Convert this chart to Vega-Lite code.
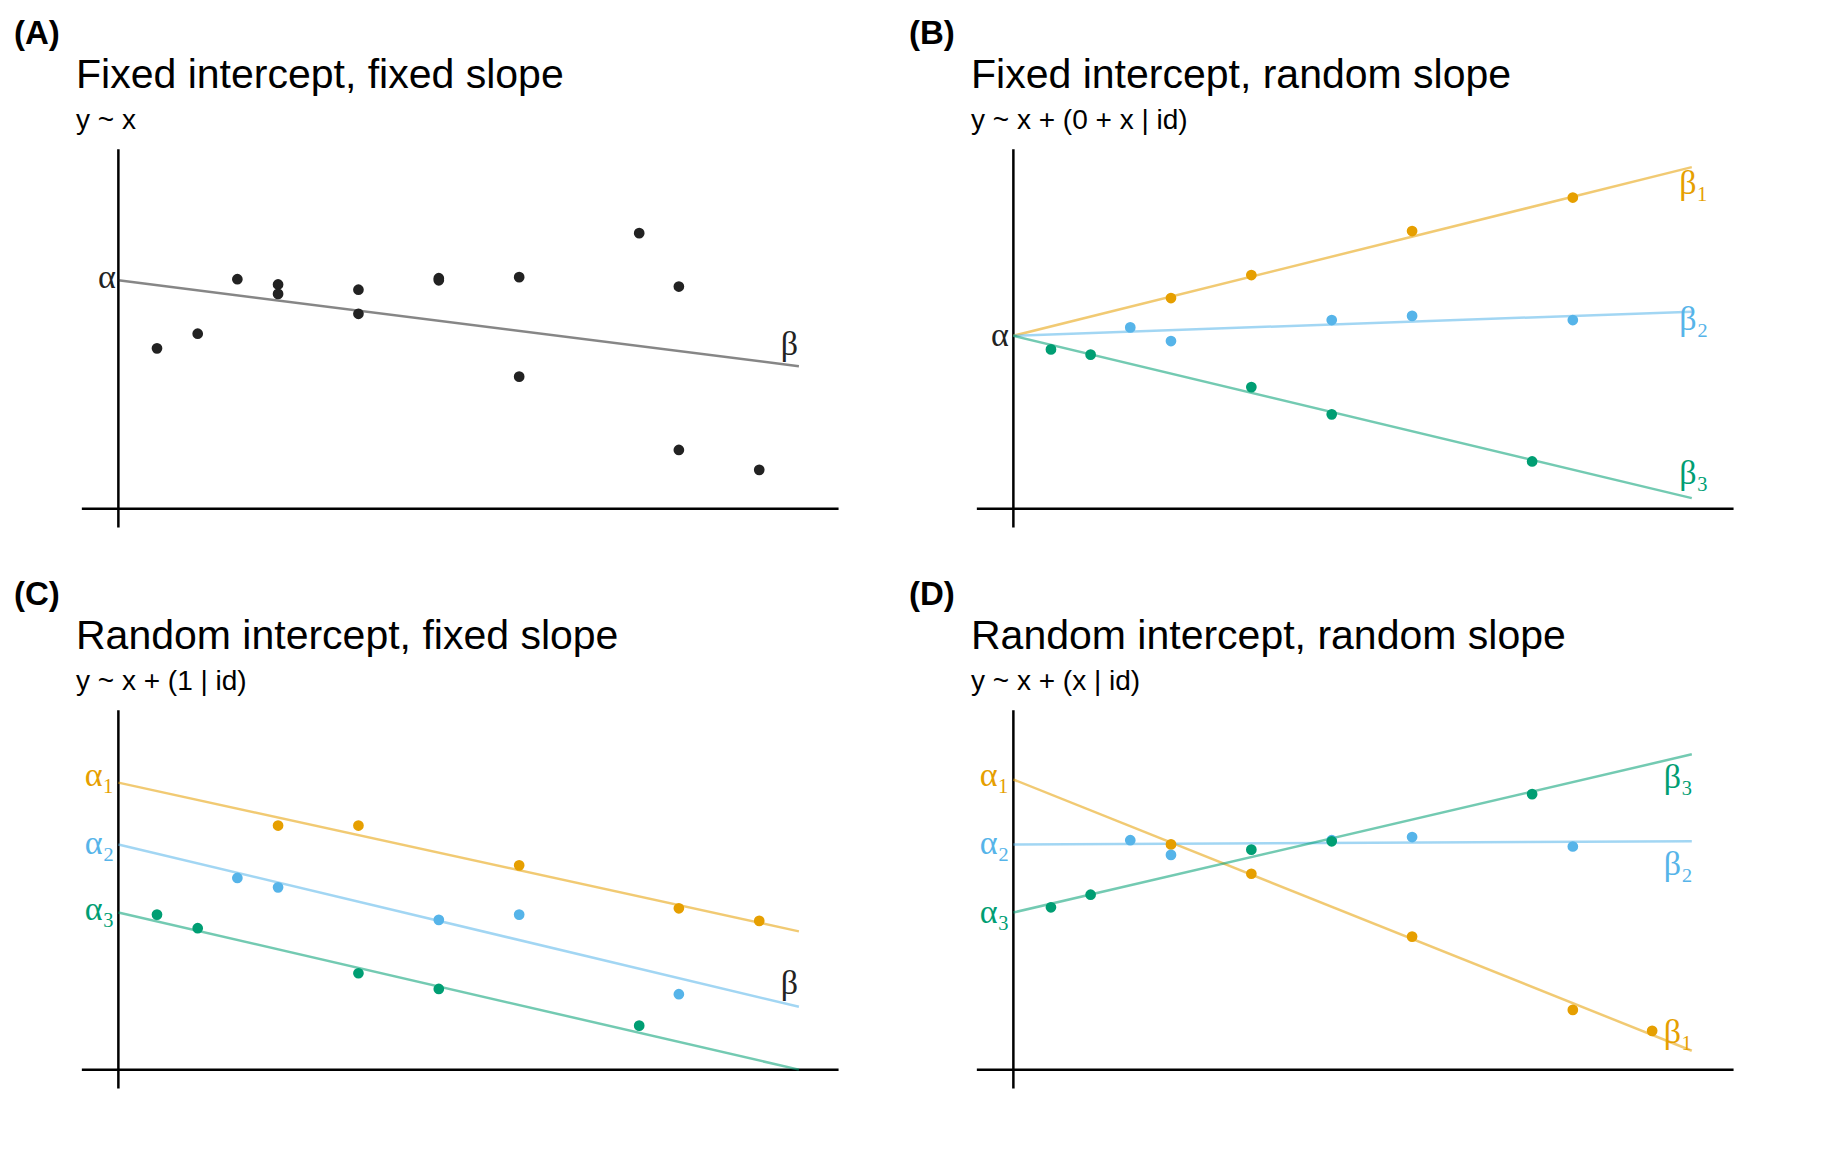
{
  "$schema": "https://vega.github.io/schema/vega-lite/v6.json",
  "padding": {"left": 14, "top": 18, "right": 5, "bottom": 5},
  "config": {
    "font": "Liberation Sans",
    "view": {"stroke": null},
    "title": {"anchor": "start", "font": "Liberation Sans", "fontWeight": "normal", "color": "black"}
  },
  "datasets": {
    "axes": [
      {"x1": -35, "x2": 690, "y1": 0, "y2": 0},
      {"x1": 0, "x2": 0, "y1": -18, "y2": 343}
    ],
    "lines": [
      {"p": "A", "g": "k", "x": 0, "y": 218}, {"p": "A", "g": "k", "x": 652, "y": 136},
      {"p": "B", "g": "o", "x": 0, "y": 165}, {"p": "B", "g": "o", "x": 650, "y": 326},
      {"p": "B", "g": "b", "x": 0, "y": 165}, {"p": "B", "g": "b", "x": 650, "y": 188},
      {"p": "B", "g": "g", "x": 0, "y": 165}, {"p": "B", "g": "g", "x": 650, "y": 10},
      {"p": "C", "g": "o", "x": 0, "y": 274}, {"p": "C", "g": "o", "x": 652, "y": 132},
      {"p": "C", "g": "b", "x": 0, "y": 215}, {"p": "C", "g": "b", "x": 652, "y": 60},
      {"p": "C", "g": "g", "x": 0, "y": 150}, {"p": "C", "g": "g", "x": 652, "y": 0},
      {"p": "D", "g": "o", "x": 0, "y": 277}, {"p": "D", "g": "o", "x": 650, "y": 18},
      {"p": "D", "g": "b", "x": 0, "y": 215}, {"p": "D", "g": "b", "x": 650, "y": 218},
      {"p": "D", "g": "g", "x": 0, "y": 150}, {"p": "D", "g": "g", "x": 650, "y": 301}
    ],
    "pts": [
      {"p": "A", "g": "k", "x": 37, "y": 153}, {"p": "A", "g": "k", "x": 76, "y": 167},
      {"p": "A", "g": "k", "x": 114, "y": 219}, {"p": "A", "g": "k", "x": 153, "y": 214},
      {"p": "A", "g": "k", "x": 153, "y": 205}, {"p": "A", "g": "k", "x": 230, "y": 209},
      {"p": "A", "g": "k", "x": 230, "y": 186}, {"p": "A", "g": "k", "x": 307, "y": 220},
      {"p": "A", "g": "k", "x": 307, "y": 218}, {"p": "A", "g": "k", "x": 384, "y": 221},
      {"p": "A", "g": "k", "x": 384, "y": 126}, {"p": "A", "g": "k", "x": 499, "y": 263},
      {"p": "A", "g": "k", "x": 537, "y": 212}, {"p": "A", "g": "k", "x": 537, "y": 56},
      {"p": "A", "g": "k", "x": 614, "y": 37},
      {"p": "B", "g": "o", "x": 151, "y": 201}, {"p": "B", "g": "o", "x": 228, "y": 223},
      {"p": "B", "g": "o", "x": 382, "y": 265}, {"p": "B", "g": "o", "x": 536, "y": 297},
      {"p": "B", "g": "b", "x": 112, "y": 173}, {"p": "B", "g": "b", "x": 151, "y": 160},
      {"p": "B", "g": "b", "x": 305, "y": 180}, {"p": "B", "g": "b", "x": 382, "y": 184},
      {"p": "B", "g": "b", "x": 536, "y": 180},
      {"p": "B", "g": "g", "x": 36, "y": 152}, {"p": "B", "g": "g", "x": 74, "y": 147},
      {"p": "B", "g": "g", "x": 228, "y": 116}, {"p": "B", "g": "g", "x": 305, "y": 90},
      {"p": "B", "g": "g", "x": 497, "y": 45},
      {"p": "C", "g": "o", "x": 153, "y": 233}, {"p": "C", "g": "o", "x": 230, "y": 233},
      {"p": "C", "g": "o", "x": 384, "y": 195}, {"p": "C", "g": "o", "x": 537, "y": 154},
      {"p": "C", "g": "o", "x": 614, "y": 142},
      {"p": "C", "g": "b", "x": 114, "y": 183}, {"p": "C", "g": "b", "x": 153, "y": 174},
      {"p": "C", "g": "b", "x": 307, "y": 143}, {"p": "C", "g": "b", "x": 384, "y": 148},
      {"p": "C", "g": "b", "x": 537, "y": 72},
      {"p": "C", "g": "g", "x": 37, "y": 148}, {"p": "C", "g": "g", "x": 76, "y": 135},
      {"p": "C", "g": "g", "x": 230, "y": 92}, {"p": "C", "g": "g", "x": 307, "y": 77},
      {"p": "C", "g": "g", "x": 499, "y": 42},
      {"p": "D", "g": "o", "x": 151, "y": 215}, {"p": "D", "g": "o", "x": 228, "y": 187},
      {"p": "D", "g": "o", "x": 382, "y": 127}, {"p": "D", "g": "o", "x": 536, "y": 57},
      {"p": "D", "g": "o", "x": 612, "y": 37},
      {"p": "D", "g": "b", "x": 112, "y": 219}, {"p": "D", "g": "b", "x": 151, "y": 205},
      {"p": "D", "g": "b", "x": 305, "y": 219}, {"p": "D", "g": "b", "x": 382, "y": 222},
      {"p": "D", "g": "b", "x": 536, "y": 213},
      {"p": "D", "g": "g", "x": 36, "y": 155}, {"p": "D", "g": "g", "x": 74, "y": 167},
      {"p": "D", "g": "g", "x": 228, "y": 210}, {"p": "D", "g": "g", "x": 305, "y": 218},
      {"p": "D", "g": "g", "x": 497, "y": 263}
    ],
    "labels": [
      {"p": "A", "g": "k", "x": -11, "y": 220, "t": "α"},
      {"p": "A", "g": "k", "x": 643, "y": 156, "t": "β"},
      {"p": "B", "g": "k", "x": -13, "y": 165, "t": "α"},
      {"p": "B", "g": "o", "x": 652, "y": 310, "t": "β₁"},
      {"p": "B", "g": "b", "x": 652, "y": 180, "t": "β₂"},
      {"p": "B", "g": "g", "x": 652, "y": 33, "t": "β₃"},
      {"p": "C", "g": "o", "x": -18, "y": 280, "t": "α₁"},
      {"p": "C", "g": "b", "x": -18, "y": 215, "t": "α₂"},
      {"p": "C", "g": "g", "x": -18, "y": 152, "t": "α₃"},
      {"p": "C", "g": "k", "x": 643, "y": 82, "t": "β"},
      {"p": "D", "g": "o", "x": -18, "y": 280, "t": "α₁"},
      {"p": "D", "g": "b", "x": -18, "y": 215, "t": "α₂"},
      {"p": "D", "g": "g", "x": -18, "y": 150, "t": "α₃"},
      {"p": "D", "g": "g", "x": 637, "y": 278, "t": "β₃"},
      {"p": "D", "g": "b", "x": 637, "y": 195, "t": "β₂"},
      {"p": "D", "g": "o", "x": 637, "y": 35, "t": "β₁"}
    ]
  },
  "spacing": 18,
  "vconcat": [
    {"hconcat": [
      {"title": {"text": "(A)", "fontSize": 33, "fontWeight": "bold", "offset": 4}, "vconcat": [{
        "title": {"text": "Fixed intercept, fixed slope", "subtitle": "y ~ x", "fontSize": 41, "subtitleFontSize": 28, "subtitleFont": "Liberation Sans", "subtitlePadding": 10, "dx": 62, "offset": 6},
        "width": 835, "height": 419,
        "layer": [
          {"data": {"name": "axes"}, "mark": {"type": "rule", "strokeWidth": 2.5, "color": "black"},
           "encoding": {"x": {"field": "x1", "type": "quantitative", "scale": {"domain": [-35, 690]}, "axis": null}, "x2": {"field": "x2"},
             "y": {"field": "y1", "type": "quantitative", "scale": {"domain": [-20, 345]}, "axis": null}, "y2": {"field": "y2"}}},
          {"data": {"name": "lines"}, "transform": [{"filter": "datum.p == 'A'"}], "mark": {"type": "line", "strokeWidth": 2.5, "opacity": 0.55},
           "encoding": {"x": {"field": "x", "type": "quantitative"}, "y": {"field": "y", "type": "quantitative"}, "detail": {"field": "g"},
             "color": {"field": "g", "type": "nominal", "legend": null, "scale": {"domain": ["k", "o", "b", "g"], "range": ["#222222", "#E69F00", "#56B4E9", "#009E73"]}}}},
          {"data": {"name": "pts"}, "transform": [{"filter": "datum.p == 'A'"}], "mark": {"type": "circle", "size": 115, "opacity": 1},
           "encoding": {"x": {"field": "x", "type": "quantitative"}, "y": {"field": "y", "type": "quantitative"},
             "color": {"field": "g", "type": "nominal", "legend": null, "scale": {"domain": ["k", "o", "b", "g"], "range": ["black", "#E08A00", "#4AA3E0", "#0A8A60"]}}}},
          {"data": {"name": "labels"}, "transform": [{"filter": "datum.p == 'A'"}], "mark": {"type": "text", "fontSize": 34, "font": "Liberation Serif"},
           "encoding": {"x": {"field": "x", "type": "quantitative"}, "y": {"field": "y", "type": "quantitative"}, "text": {"field": "t"},
             "color": {"field": "g", "type": "nominal", "legend": null, "scale": {"domain": ["k", "o", "b", "g"], "range": ["black", "#E08A00", "#4AA3E0", "#0A8A60"]}}}}
        ]}]},
      {"title": {"text": "(B)", "fontSize": 33, "fontWeight": "bold", "offset": 4}, "vconcat": [{
        "title": {"text": "Fixed intercept, random slope", "subtitle": "y ~ x + (0 + x | id)", "fontSize": 41, "subtitleFontSize": 28, "subtitleFont": "Liberation Sans", "subtitlePadding": 10, "dx": 62, "offset": 6},
        "width": 835, "height": 419,
        "layer": [
          {"data": {"name": "axes"}, "mark": {"type": "rule", "strokeWidth": 2.5, "color": "black"},
           "encoding": {"x": {"field": "x1", "type": "quantitative", "scale": {"domain": [-35, 690]}, "axis": null}, "x2": {"field": "x2"},
             "y": {"field": "y1", "type": "quantitative", "scale": {"domain": [-20, 345]}, "axis": null}, "y2": {"field": "y2"}}},
          {"data": {"name": "lines"}, "transform": [{"filter": "datum.p == 'B'"}], "mark": {"type": "line", "strokeWidth": 2.5, "opacity": 0.55},
           "encoding": {"x": {"field": "x", "type": "quantitative"}, "y": {"field": "y", "type": "quantitative"}, "detail": {"field": "g"},
             "color": {"field": "g", "type": "nominal", "legend": null, "scale": {"domain": ["k", "o", "b", "g"], "range": ["#222222", "#E69F00", "#56B4E9", "#009E73"]}}}},
          {"data": {"name": "pts"}, "transform": [{"filter": "datum.p == 'B'"}], "mark": {"type": "circle", "size": 115, "opacity": 1},
           "encoding": {"x": {"field": "x", "type": "quantitative"}, "y": {"field": "y", "type": "quantitative"},
             "color": {"field": "g", "type": "nominal", "legend": null, "scale": {"domain": ["k", "o", "b", "g"], "range": ["black", "#E08A00", "#4AA3E0", "#0A8A60"]}}}},
          {"data": {"name": "labels"}, "transform": [{"filter": "datum.p == 'B'"}], "mark": {"type": "text", "fontSize": 34, "font": "Liberation Serif"},
           "encoding": {"x": {"field": "x", "type": "quantitative"}, "y": {"field": "y", "type": "quantitative"}, "text": {"field": "t"},
             "color": {"field": "g", "type": "nominal", "legend": null, "scale": {"domain": ["k", "o", "b", "g"], "range": ["black", "#E08A00", "#4AA3E0", "#0A8A60"]}}}}
        ]}]}
    ], "spacing": 60},
    {"hconcat": [
      {"title": {"text": "(C)", "fontSize": 33, "fontWeight": "bold", "offset": 4}, "vconcat": [{
        "title": {"text": "Random intercept, fixed slope", "subtitle": "y ~ x + (1 | id)", "fontSize": 41, "subtitleFontSize": 28, "subtitleFont": "Liberation Sans", "subtitlePadding": 10, "dx": 62, "offset": 6},
        "width": 835, "height": 419,
        "layer": [
          {"data": {"name": "axes"}, "mark": {"type": "rule", "strokeWidth": 2.5, "color": "black"},
           "encoding": {"x": {"field": "x1", "type": "quantitative", "scale": {"domain": [-35, 690]}, "axis": null}, "x2": {"field": "x2"},
             "y": {"field": "y1", "type": "quantitative", "scale": {"domain": [-20, 345]}, "axis": null}, "y2": {"field": "y2"}}},
          {"data": {"name": "lines"}, "transform": [{"filter": "datum.p == 'C'"}], "mark": {"type": "line", "strokeWidth": 2.5, "opacity": 0.55},
           "encoding": {"x": {"field": "x", "type": "quantitative"}, "y": {"field": "y", "type": "quantitative"}, "detail": {"field": "g"},
             "color": {"field": "g", "type": "nominal", "legend": null, "scale": {"domain": ["k", "o", "b", "g"], "range": ["#222222", "#E69F00", "#56B4E9", "#009E73"]}}}},
          {"data": {"name": "pts"}, "transform": [{"filter": "datum.p == 'C'"}], "mark": {"type": "circle", "size": 115, "opacity": 1},
           "encoding": {"x": {"field": "x", "type": "quantitative"}, "y": {"field": "y", "type": "quantitative"},
             "color": {"field": "g", "type": "nominal", "legend": null, "scale": {"domain": ["k", "o", "b", "g"], "range": ["black", "#E08A00", "#4AA3E0", "#0A8A60"]}}}},
          {"data": {"name": "labels"}, "transform": [{"filter": "datum.p == 'C'"}], "mark": {"type": "text", "fontSize": 34, "font": "Liberation Serif"},
           "encoding": {"x": {"field": "x", "type": "quantitative"}, "y": {"field": "y", "type": "quantitative"}, "text": {"field": "t"},
             "color": {"field": "g", "type": "nominal", "legend": null, "scale": {"domain": ["k", "o", "b", "g"], "range": ["black", "#E08A00", "#4AA3E0", "#0A8A60"]}}}}
        ]}]},
      {"title": {"text": "(D)", "fontSize": 33, "fontWeight": "bold", "offset": 4}, "vconcat": [{
        "title": {"text": "Random intercept, random slope", "subtitle": "y ~ x + (x | id)", "fontSize": 41, "subtitleFontSize": 28, "subtitleFont": "Liberation Sans", "subtitlePadding": 10, "dx": 62, "offset": 6},
        "width": 835, "height": 419,
        "layer": [
          {"data": {"name": "axes"}, "mark": {"type": "rule", "strokeWidth": 2.5, "color": "black"},
           "encoding": {"x": {"field": "x1", "type": "quantitative", "scale": {"domain": [-35, 690]}, "axis": null}, "x2": {"field": "x2"},
             "y": {"field": "y1", "type": "quantitative", "scale": {"domain": [-20, 345]}, "axis": null}, "y2": {"field": "y2"}}},
          {"data": {"name": "lines"}, "transform": [{"filter": "datum.p == 'D'"}], "mark": {"type": "line", "strokeWidth": 2.5, "opacity": 0.55},
           "encoding": {"x": {"field": "x", "type": "quantitative"}, "y": {"field": "y", "type": "quantitative"}, "detail": {"field": "g"},
             "color": {"field": "g", "type": "nominal", "legend": null, "scale": {"domain": ["k", "o", "b", "g"], "range": ["#222222", "#E69F00", "#56B4E9", "#009E73"]}}}},
          {"data": {"name": "pts"}, "transform": [{"filter": "datum.p == 'D'"}], "mark": {"type": "circle", "size": 115, "opacity": 1},
           "encoding": {"x": {"field": "x", "type": "quantitative"}, "y": {"field": "y", "type": "quantitative"},
             "color": {"field": "g", "type": "nominal", "legend": null, "scale": {"domain": ["k", "o", "b", "g"], "range": ["black", "#E08A00", "#4AA3E0", "#0A8A60"]}}}},
          {"data": {"name": "labels"}, "transform": [{"filter": "datum.p == 'D'"}], "mark": {"type": "text", "fontSize": 34, "font": "Liberation Serif"},
           "encoding": {"x": {"field": "x", "type": "quantitative"}, "y": {"field": "y", "type": "quantitative"}, "text": {"field": "t"},
             "color": {"field": "g", "type": "nominal", "legend": null, "scale": {"domain": ["k", "o", "b", "g"], "range": ["black", "#E08A00", "#4AA3E0", "#0A8A60"]}}}}
        ]}]}
    ], "spacing": 60}
  ]
}
